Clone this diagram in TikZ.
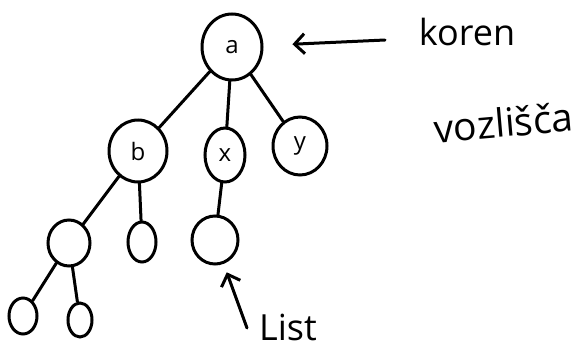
\documentclass[tikz,border=0pt]{standalone}
\usepackage{fontspec}
\setmainfont{Open Sans}
\usetikzlibrary{shapes.geometric,arrows.meta}
\begin{document}
\begin{tikzpicture}[x=1pt,y=-1pt,
  vozel/.style={ellipse,draw,line width=3pt,inner sep=0pt,
    font=\fontsize{24}{24}\selectfont},
  veja/.style={line width=3pt,line cap=round},
  kazalec/.style={line width=3pt,line cap=round,
    -{Straight Barb[length=10pt,width=20pt,line width=3pt]}},
  napis/.style={font=\fontsize{36}{36}\selectfont,anchor=base}]
\useasboundingbox (0,0) rectangle (580,348);

% tree nodes
\node[vozel,minimum width=60pt,minimum height=66pt] (a) at (232,47) {a};
\node[vozel,minimum width=58pt,minimum height=62pt] (b) at (138,151) {b};
\node[vozel,minimum width=40pt,minimum height=54pt] (x) at (225,155) {x};
\node[vozel,minimum width=54pt,minimum height=58pt] (y) at (300,146) {y};
\node[vozel,minimum width=42pt,minimum height=46pt] (bl) at (69,243) {};
\node[vozel,minimum width=28pt,minimum height=40pt] (br) at (142,242) {};
\node[vozel,minimum width=46pt,minimum height=48pt] (xc) at (215,240) {};
\node[vozel,minimum width=28pt,minimum height=36pt] (bll) at (23,316) {};
\node[vozel,minimum width=24pt,minimum height=34pt] (blr) at (80,320) {};

% edges
\draw[veja] (a) -- (b);
\draw[veja] (a) -- (x);
\draw[veja] (a) -- (y);
\draw[veja] (b) -- (bl);
\draw[veja] (b) -- (br);
\draw[veja] (x) -- (xc);
\draw[veja] (bl) -- (bll);
\draw[veja] (bl) -- (blr);

% labels
\node[napis] (koren) at (467,45) {koren};
\node[napis,rotate=5,font=\fontsize{39}{39}\selectfont] (vozlisca) at (505,137) {vozlišča};
\node[napis] (list) at (288,340) {List};

% pointers
\coordinate (kt) at (385,40);
\coordinate (lt) at (247,328);
\draw[kazalec,shorten >=29pt] (kt) -- (a);
\draw[kazalec,shorten >=9pt] (lt) -- (xc);
\end{tikzpicture}
\end{document}
